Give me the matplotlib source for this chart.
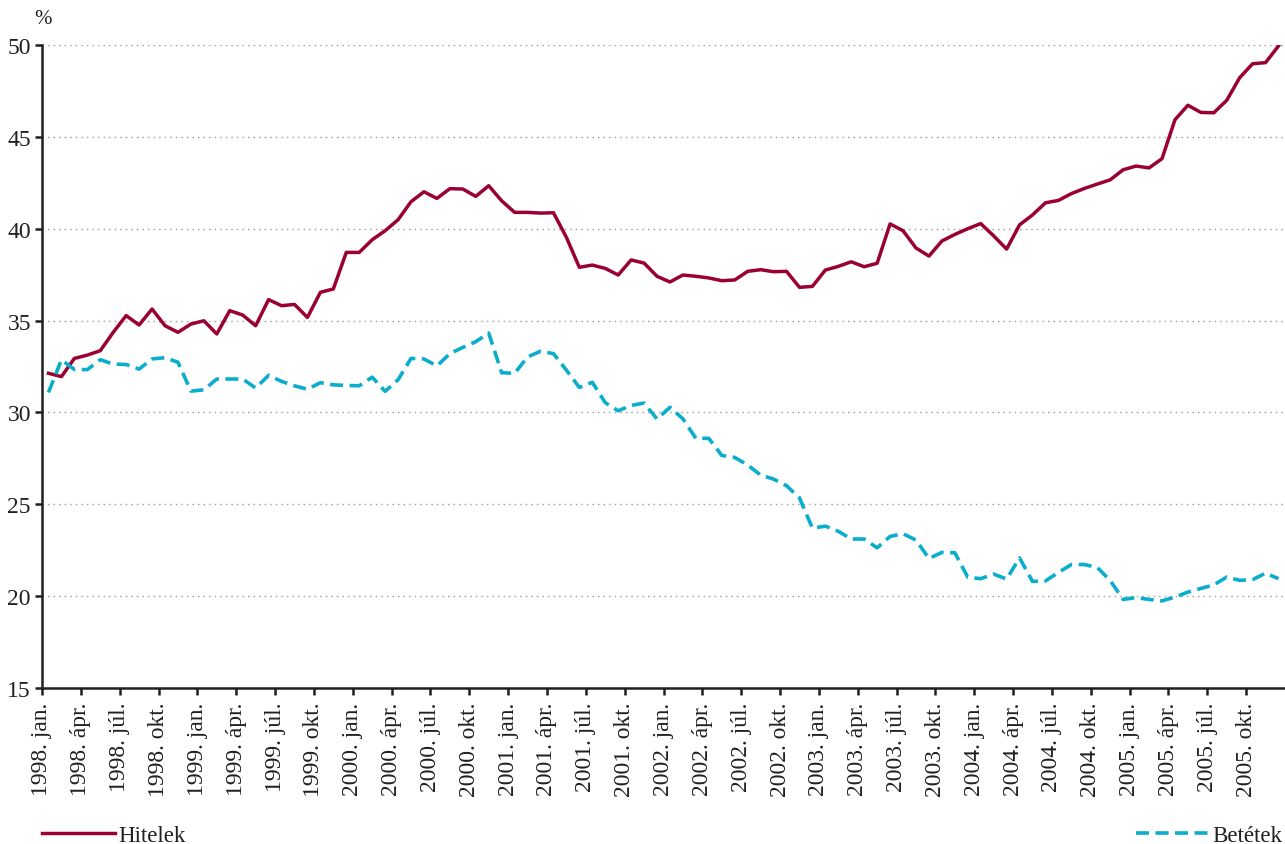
import numpy as np
import matplotlib
matplotlib.use("Agg")
import matplotlib.pyplot as plt

plt.rcParams['font.family'] = ['Liberation Serif', 'DejaVu Serif']

# monthly data, 1998 jan - 2005 dec
years = [1998, 1999, 2000, 2001, 2002, 2003, 2004, 2005]
months = ['jan.', 'ápr.', 'júl.', 'okt.']
tick_labels = [f"{y}. {m}" for y in years for m in months]

hitelek = [
    32.13, 31.95, 32.94, 33.12, 33.36, 34.36, 35.27, 34.76, 35.63, 34.72, 34.36, 34.81,
    34.99, 34.27, 35.54, 35.30, 34.72, 36.14, 35.81, 35.88, 35.17, 36.54, 36.72, 38.71,
    38.71, 39.40, 39.89, 40.49, 41.47, 42.01, 41.65, 42.18, 42.16, 41.76, 42.34, 41.52,
    40.89, 40.89, 40.85, 40.87, 39.53, 37.90, 38.02, 37.84, 37.48, 38.30, 38.13, 37.41,
    37.10, 37.48, 37.41, 37.32, 37.17, 37.21, 37.68, 37.77, 37.66, 37.68, 36.81, 36.86,
    37.75, 37.95, 38.20, 37.93, 38.12, 40.26, 39.89, 38.95, 38.51, 39.33, 39.69, 40.00,
    40.28, 39.61, 38.89, 40.21, 40.75, 41.41, 41.54, 41.91, 42.19, 42.43, 42.66, 43.21,
    43.41, 43.31, 43.81, 45.93, 46.72, 46.33, 46.31, 46.99, 48.22, 48.98, 49.04, 49.95,
]

betetek = [
    31.09, 32.86, 32.34, 32.33, 32.87, 32.63, 32.61, 32.36, 32.91, 32.98, 32.73, 31.16,
    31.23, 31.82, 31.82, 31.82, 31.33, 32.02, 31.69, 31.45, 31.26, 31.62, 31.50, 31.47,
    31.45, 31.92, 31.15, 31.78, 32.94, 32.91, 32.53, 33.20, 33.54, 33.85, 34.32, 32.16,
    32.13, 33.02, 33.33, 33.20, 32.30, 31.36, 31.64, 30.53, 30.09, 30.38, 30.51, 29.64,
    30.28, 29.65, 28.59, 28.59, 27.66, 27.55, 27.14, 26.59, 26.37, 26.01, 25.35, 23.70,
    23.81, 23.53, 23.11, 23.11, 22.63, 23.25, 23.40, 23.05, 22.05, 22.38, 22.36, 21.03,
    20.95, 21.20, 20.93, 22.08, 20.80, 20.83, 21.29, 21.72, 21.72, 21.56, 20.85, 19.82,
    19.92, 19.82, 19.74, 19.95, 20.22, 20.42, 20.61, 21.04, 20.86, 20.90, 21.25, 20.95,
]

red = '#9a0032'
blue = '#0aaecc'
ink = '#231f20'

fig = plt.figure(figsize=(12.85, 8.45), dpi=100)
ax = fig.add_axes([42 / 1285, 1 - 689 / 845, 1243 / 1285, 643 / 845])

x = np.arange(len(hitelek))
l1, = ax.plot(x, hitelek, color=red, lw=2.5, label='Hitelek')
l2, = ax.plot(x, betetek, color=blue, lw=2.6, dashes=(3.6, 1.8), label='Betétek')

ax.set_xlim(-0.5, len(hitelek) - 0.5)
ax.set_ylim(15, 50)
ax.set_yticks(np.arange(15, 51, 5))
ax.set_xticks(np.arange(0, len(hitelek), 3) - 0.5)
ax.set_xticklabels(tick_labels, rotation=90, ha='center', va='top', fontsize=18)

ax.grid(axis='y', color='#999999', linestyle=(0, (1, 3)), lw=1)
ax.set_axisbelow(True)
for s in ['top', 'right']:
    ax.spines[s].set_visible(False)
for s in ['left', 'bottom']:
    ax.spines[s].set_linewidth(1.8)
    ax.spines[s].set_color(ink)
ax.tick_params(axis='both', direction='out', length=5, width=1.8, color=ink,
               labelsize=17, labelcolor=ink)
ax.tick_params(axis='x', pad=5)
ax.tick_params(axis='y', pad=3)

fig.text(34 / 1285, 1 - 20 / 845, '%', fontsize=15, color=ink, va='center')

leg1 = fig.legend([l1], ['Hitelek'], loc='center left', bbox_to_anchor=(42 / 1285, 1 - 836 / 845),
                  frameon=False, borderpad=0, borderaxespad=0, handlelength=3.2,
                  handletextpad=0.15, fontsize=16.5)
leg2 = fig.legend([l2], ['Betétek'], loc='center left', bbox_to_anchor=(1136 / 1285, 1 - 836 / 845),
                  frameon=False, borderpad=0, borderaxespad=0, handlelength=3.2,
                  handletextpad=0.15, fontsize=16.5)
for leg in (leg1, leg2):
    for t in leg.get_texts():
        t.set_color(ink)

fig.savefig('out.png', dpi=100)
